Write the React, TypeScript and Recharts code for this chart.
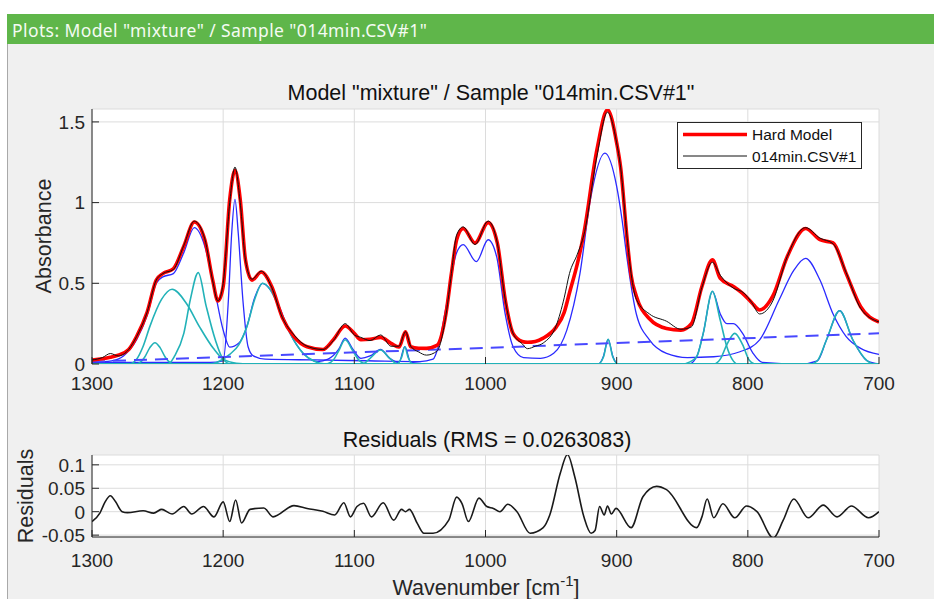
import React from 'react';
import { LineChart, Line, XAxis, YAxis, CartesianGrid } from 'recharts';

// ---- tick labels ----
const xTicks = [1300, 1200, 1100, 1000, 900, 800, 700];
const absTicks = [0, 0.5, 1, 1.5];
const resTicks = [-0.05, 0, 0.05, 0.1];

// ---- measured spectrum and hard model (same wavenumber grid) ----
const wavenumbers = [
  1300, 1292, 1286, 1280, 1272, 1266, 1258, 1251, 1246, 1238, 1230, 1222, 1214, 1208, 1204, 1200,
  1195, 1191, 1187, 1183, 1178, 1171, 1163, 1155, 1146, 1136, 1124, 1116, 1107, 1100, 1095, 1088,
  1080, 1072, 1066, 1061, 1057, 1051, 1045, 1037, 1030, 1026, 1022, 1017, 1008, 998, 991, 985,
  979, 972, 968, 962, 956, 946, 940, 936, 930, 925, 915, 907, 900, 897, 892, 889,
  885, 875, 862, 851, 843, 835, 827, 821, 811, 803, 797, 791, 781, 770, 756, 745,
  735, 725, 714, 700,
];
const hardModel = [
  0.025, 0.033, 0.042, 0.055, 0.09, 0.17, 0.32, 0.52, 0.56, 0.59, 0.73, 0.88, 0.77, 0.52, 0.39, 0.48,
  1.02, 1.2, 1.02, 0.645, 0.52, 0.57, 0.48, 0.29, 0.17, 0.107, 0.09, 0.15, 0.235, 0.19, 0.15, 0.153,
  0.165, 0.128, 0.105, 0.2, 0.107, 0.098, 0.097, 0.115, 0.32, 0.56, 0.77, 0.84, 0.75, 0.876, 0.75, 0.4,
  0.19, 0.14, 0.135, 0.14, 0.16, 0.23, 0.32, 0.44, 0.62, 0.81, 1.33, 1.575, 1.37, 1.22, 0.77, 0.55,
  0.42, 0.28, 0.22, 0.21, 0.25, 0.48, 0.645, 0.53, 0.48, 0.43, 0.38, 0.335, 0.42, 0.665, 0.84, 0.77,
  0.75, 0.56, 0.355, 0.26,
];
const sampleAbs = [
  0.025, 0.04, 0.065, 0.05, 0.09, 0.17, 0.32, 0.52, 0.56, 0.585, 0.735, 0.885, 0.775, 0.515, 0.39, 0.5,
  1.0, 1.22, 1.0, 0.645, 0.525, 0.575, 0.475, 0.29, 0.18, 0.11, 0.09, 0.145, 0.25, 0.18, 0.165, 0.145,
  0.18, 0.11, 0.11, 0.2, 0.11, 0.075, 0.055, 0.08, 0.31, 0.56, 0.8, 0.85, 0.74, 0.886, 0.75, 0.4,
  0.19, 0.125, 0.095, 0.11, 0.13, 0.24, 0.41, 0.56, 0.68, 0.8, 1.29, 1.56, 1.37, 1.22, 0.78, 0.56,
  0.4, 0.31, 0.265, 0.215, 0.23, 0.475, 0.63, 0.55, 0.47, 0.44, 0.38, 0.31, 0.39, 0.665, 0.845, 0.78,
  0.745, 0.565, 0.345, 0.26,
];

// ---- pure component spectra [wavenumber, absorbance] ----
const componentA: [number, number][] = [
  [1300, 0.012], [1285, 0.02], [1276, 0.05], [1266, 0.15], [1258, 0.3], [1251, 0.5], [1246, 0.54],
  [1238, 0.56], [1230, 0.69], [1222, 0.845], [1214, 0.73], [1207, 0.48], [1200, 0.21], [1195, 0.105],
  [1188, 0.13], [1182, 0.23], [1176, 0.41], [1170, 0.5], [1164, 0.46], [1158, 0.37], [1149, 0.19],
  [1139, 0.066], [1128, 0.015], [1120, 0.03], [1112, 0.09], [1107, 0.16], [1101, 0.09], [1095, 0.035],
  [1088, 0.05], [1080, 0.09], [1073, 0.035], [1066, 0.01], [1061.5, 0.107], [1057, 0.01], [1040, 0],
  [914, 0], [910, 0.05], [906.5, 0.153], [903, 0.05], [899, 0], [845, 0], [839, 0.045], [834, 0.19],
  [827, 0.45], [821, 0.31], [816, 0.25], [811, 0.25], [804, 0.19], [796, 0.066], [789, 0.01], [760, 0],
  [747, 0.02], [740, 0.15], [730, 0.33], [720, 0.15], [709, 0.02], [700, 0],
];
const componentB: [number, number][] = [
  [1300, 0.01], [1210, 0.01], [1200, 0.02], [1196, 0.4], [1193.5, 0.81], [1191, 1.02], [1188.5, 0.81],
  [1185, 0.4], [1181, 0.107], [1177, 0.05], [1168, 0.03], [1130, 0.025], [1090, 0.02], [1050, 0.015],
  [1040, 0.03], [1036, 0.107], [1030, 0.355], [1022, 0.69], [1017, 0.74], [1007, 0.634], [998, 0.77],
  [991.5, 0.665], [985, 0.31], [979, 0.107], [971, 0.04], [958, 0.035], [948, 0.066], [938, 0.21],
  [928, 0.56], [920, 1.02], [909, 1.306], [900, 1.1], [896, 0.9], [892, 0.65], [885, 0.31], [875, 0.15],
  [862, 0.066], [846, 0.04], [826, 0.045], [806, 0.076], [791, 0.15], [776, 0.4], [765, 0.58],
  [756, 0.655], [745, 0.52], [735, 0.31], [725, 0.17], [714, 0.097], [700, 0.06],
];

// ---- single peaks of component A ----
const peak1252: [number, number][] = [[1300, 0], [1266, 0], [1260, 0.04], [1256, 0.1], [1252, 0.132], [1248, 0.1], [1244, 0.04], [1238, 0], [700, 0]];
const peak1239: [number, number][] = [[1300, 0], [1272, 0], [1266, 0.03], [1261, 0.11], [1256, 0.23], [1247, 0.4], [1239, 0.463], [1228, 0.375], [1218, 0.23], [1207.5, 0.097], [1200, 0.03], [1190, 0.005], [1180, 0], [700, 0]];
const peak1219: [number, number][] = [[1300, 0], [1242, 0], [1237, 0.05], [1230, 0.19], [1225, 0.4], [1219, 0.566], [1213, 0.36], [1206, 0.15], [1200, 0.03], [1194, 0], [700, 0]];
const peak1170: [number, number][] = [[1300, 0], [1210, 0], [1205, 0.01], [1195, 0.06], [1188, 0.12], [1182, 0.23], [1176, 0.4], [1170, 0.5], [1164, 0.46], [1159, 0.38], [1149, 0.19], [1139, 0.066], [1130, 0.015], [1122, 0], [700, 0]];
const peak1107: [number, number][] = [[1300, 0], [1122, 0], [1116, 0.025], [1112, 0.08], [1107, 0.15], [1101, 0.08], [1096, 0.02], [1090, 0], [700, 0]];
const peak1080: [number, number][] = [[1300, 0], [1094, 0], [1088, 0.035], [1080, 0.087], [1073, 0.035], [1067, 0], [700, 0]];
const peak1062: [number, number][] = [[1300, 0], [1068, 0], [1064, 0.04], [1061.5, 0.107], [1059, 0.04], [1055, 0], [700, 0]];
const peak906: [number, number][] = [[1300, 0], [914, 0], [910, 0.045], [906.5, 0.153], [903, 0.045], [899, 0], [700, 0]];
const peak827: [number, number][] = [[1300, 0], [850, 0], [845, 0.01], [839, 0.045], [834, 0.19], [827, 0.45], [821, 0.27], [816, 0.107], [812, 0.03], [808, 0], [700, 0]];
const peak810: [number, number][] = [[1300, 0], [826, 0], [821, 0.03], [816, 0.12], [810, 0.19], [804, 0.12], [799, 0.025], [794, 0], [700, 0]];
const peak730: [number, number][] = [[1300, 0], [752, 0], [747, 0.02], [740, 0.15], [730, 0.33], [720, 0.15], [709, 0.02], [704, 0], [700, 0]];
const cyanPeaks = [peak1252, peak1239, peak1219, peak1170, peak1107, peak1080, peak1062, peak906, peak827, peak810, peak730];

// ---- baseline ----
const baselineWn = [1300, 1000, 700];
const baseline = [0.015, 0.1, 0.19];

// ---- residuals ----
const resWn = [
  1300, 1294, 1290, 1286, 1282, 1277, 1273, 1261, 1253, 1247, 1239, 1230, 1224, 1215, 1207, 1200,
  1195, 1190.5, 1186, 1179.5, 1169, 1162, 1146, 1136, 1124, 1115, 1108, 1103, 1098, 1093, 1087, 1078,
  1070, 1064, 1061, 1058, 1052, 1047, 1040, 1028, 1022, 1018, 1013, 1005, 999, 994, 989, 983,
  976, 966, 956, 951, 943, 937.5, 932, 925, 919.5, 916.5, 913, 909.5, 907, 904, 900.5, 889,
  880, 869.5, 862, 839, 835, 831, 826, 819, 810, 801, 793, 780.5, 773, 765, 754, 742.5,
  732, 721, 708, 700,
];
const residuals = [
  -0.021, -0.003, 0.021, 0.034, 0.021, 0, -0.002, 0.002, -0.003, 0.005, -0.005, 0.011, -0.005, 0.011, -0.011, 0.021,
  -0.021, 0.025, -0.024, 0.005, 0.008, -0.011, 0.013, 0.007, 0.001, -0.007, 0.019, -0.011, 0.011, 0.018, -0.011, 0.019,
  -0.018, 0.005, 0, 0.005, -0.025, -0.046, -0.046, -0.018, 0.031, 0.018, -0.021, 0.029, 0.011, 0.007, 0, 0.016,
  0, -0.046, -0.034, -0.007, 0.082, 0.122, 0.075, -0.011, -0.046, -0.04, 0.011, -0.007, 0.012, -0.005, 0.007, -0.034,
  0.032, 0.054, 0.047, -0.034, -0.011, 0.027, -0.013, 0.017, -0.013, 0.012, 0, -0.056, -0.018, 0.027, -0.013, 0.014,
  -0.011, 0.012, -0.013, 0,
];

const zip = (xs: number[], ys: number[]) => xs.map((wn, i) => ({ wn, v: ys[i] }));
const rows = (pts: [number, number][]) => pts.map(([wn, v]) => ({ wn, v }));

const FONT = '"Liberation Sans", Arial, Helvetica, sans-serif';
const AX = '#262626';
const TICK_LEN = 7;
const tickText = { fontFamily: FONT, fontSize: 19, fill: AX };

const bottomTick = (drop: number) => (p: any) => (
  <g>
    <line x1={p.x} x2={p.x} y1={p.y} y2={p.y - TICK_LEN} stroke={AX} />
    <text x={p.x} y={p.y + drop} textAnchor="middle" style={tickText}>{p.payload.value}</text>
  </g>
);
const leftTick = (p: any) => (
  <g>
    <line x1={p.x} x2={p.x + TICK_LEN} y1={p.y} y2={p.y} stroke={AX} />
    <text x={p.x - 7} y={p.y} dy="0.36em" textAnchor="end" style={tickText}>{p.payload.value}</text>
  </g>
);
const topTick = (p: any) => <line x1={p.x} x2={p.x} y1={p.y} y2={p.y + TICK_LEN} stroke={AX} />;
const rightTick = (p: any) => <line x1={p.x} x2={p.x - TICK_LEN} y1={p.y} y2={p.y} stroke={AX} />;

function axes(yDomain: [number, number], yTicks: number[], labelDrop: number, xHeight: number, bottomLine: boolean) {
  return [
    <CartesianGrid key="g" stroke="#dcdcdc" fill="#fff" />,
    <XAxis key="xb" dataKey="wn" type="number" domain={[700, 1300]} reversed allowDataOverflow ticks={xTicks}
      interval={0} height={xHeight} tickSize={0} tickMargin={0} tickLine={false}
      axisLine={bottomLine ? { stroke: AX } : false} tick={bottomTick(labelDrop)} />,
    <XAxis key="xt" xAxisId="top" orientation="top" dataKey="wn" type="number" domain={[700, 1300]} reversed
      allowDataOverflow ticks={xTicks} interval={0} height={0} tickSize={0} tickMargin={0} tickLine={false}
      axisLine={{ stroke: AX }} tick={topTick} />,
    <YAxis key="yl" type="number" domain={yDomain} allowDataOverflow ticks={yTicks} interval={0} width={60}
      tickSize={0} tickMargin={0} tickLine={false} axisLine={{ stroke: AX }} tick={leftTick} />,
    <YAxis key="yr" yAxisId="right" orientation="right" type="number" domain={yDomain} allowDataOverflow
      ticks={yTicks} interval={0} width={0} tickSize={0} tickMargin={0} tickLine={false}
      axisLine={{ stroke: AX }} tick={rightTick} />,
  ];
}

export default function App() {
  return (
    <div style={{ position: 'fixed', left: 0, top: 0, width: 934, height: 599, background: '#fff', overflow: 'hidden' }}>
      <div style={{ position: 'absolute', left: 7, top: 14, right: 0, height: 30, background: '#5fb64a', color: '#f4fbf2',
        fontFamily: '"Noto Sans", "Open Sans", sans-serif', fontSize: 17.5, letterSpacing: 0.4, lineHeight: '32px',
        paddingLeft: 5, overflow: 'hidden', whiteSpace: 'nowrap' }}>
        Plots: Model "mixture" / Sample "014min.CSV#1"
      </div>
      <div style={{ position: 'absolute', left: 7, top: 44, right: 0, bottom: 0, background: '#f0f0f0', borderLeft: '1px solid #a9a9a9' }} />

      <div style={{ position: 'absolute', left: 0, top: 60 }}>
        <LineChart width={934} height={340} margin={{ top: 49, right: 55, bottom: 0, left: 32 }}>
          {axes([0, 1.58], absTicks, 26, 36, false)}
          <Line data={rows(componentA)} dataKey="v" type="monotone" dot={false} stroke="#2a2aff" strokeWidth={1.3} isAnimationActive={false} />
          <Line data={rows(componentB)} dataKey="v" type="monotone" dot={false} stroke="#2a2aff" strokeWidth={1.3} isAnimationActive={false} />
          {cyanPeaks.map((pk, i) => (
            <Line key={'c' + i} data={rows(pk)} dataKey="v" type="monotone" dot={false} stroke="#22b2b8" strokeWidth={1.6} isAnimationActive={false} />
          ))}
          <Line data={zip(baselineWn, baseline)} dataKey="v" type="linear" dot={false} stroke="#4848ff" strokeWidth={2} strokeDasharray="13 8" isAnimationActive={false} />
          <Line data={zip(wavenumbers, hardModel)} dataKey="v" name="Hard Model" type="monotone" dot={false} stroke="#ff0000" strokeWidth={3.6} isAnimationActive={false} />
          <Line data={zip(wavenumbers, sampleAbs)} dataKey="v" name="014min.CSV#1" type="monotone" dot={false} stroke="#111" strokeWidth={1} isAnimationActive={false} />
        </LineChart>
      </div>

      <div style={{ position: 'absolute', left: 0, top: 400 }}>
        <LineChart width={934} height={199} margin={{ top: 55, right: 55, bottom: 0, left: 32 }}>
          {axes([-0.054, 0.121], resTicks, 30, 62, true)}
          <Line data={zip(resWn, residuals)} dataKey="v" type="monotone" dot={false} stroke="#1a1a1a" strokeWidth={1.6} isAnimationActive={false} />
        </LineChart>
      </div>

      <svg width={934} height={599} style={{ position: 'absolute', left: 0, top: 0, pointerEvents: 'none' }}>
        <g style={{ fontFamily: FONT, fill: AX }}>
          <text x={491} y={100} textAnchor="middle" fontSize={21.5} fill="#111">Model "mixture" / Sample "014min.CSV#1"</text>
          <text transform="translate(51,236) rotate(-90)" textAnchor="middle" fontSize={21.5}>Absorbance</text>
          <text x={487} y={447} textAnchor="middle" fontSize={21.5} fill="#111">Residuals (RMS = 0.0263083)</text>
          <text transform="translate(33,496) rotate(-90)" textAnchor="middle" fontSize={21.5}>Residuals</text>
          <text x={486} y={595} textAnchor="middle" fontSize={21.5}>
            Wavenumber [cm<tspan dy={-9} fontSize={15}>-1</tspan><tspan dy={9}>]</tspan>
          </text>
        </g>
        <rect x={677.5} y={122.5} width={184} height={46} fill="#fff" stroke={AX} />
        <line x1={683} x2={747} y1={134.5} y2={134.5} stroke="#ff0000" strokeWidth={3.6} />
        <line x1={683} x2={747} y1={156} y2={156} stroke="#111" strokeWidth={1} />
        <text x={752} y={140} fontSize={15.5} style={{ fontFamily: FONT, fill: '#111' }}>Hard Model</text>
        <text x={752} y={162} fontSize={15.5} style={{ fontFamily: FONT, fill: '#111' }}>014min.CSV#1</text>
      </svg>
    </div>
  );
}
